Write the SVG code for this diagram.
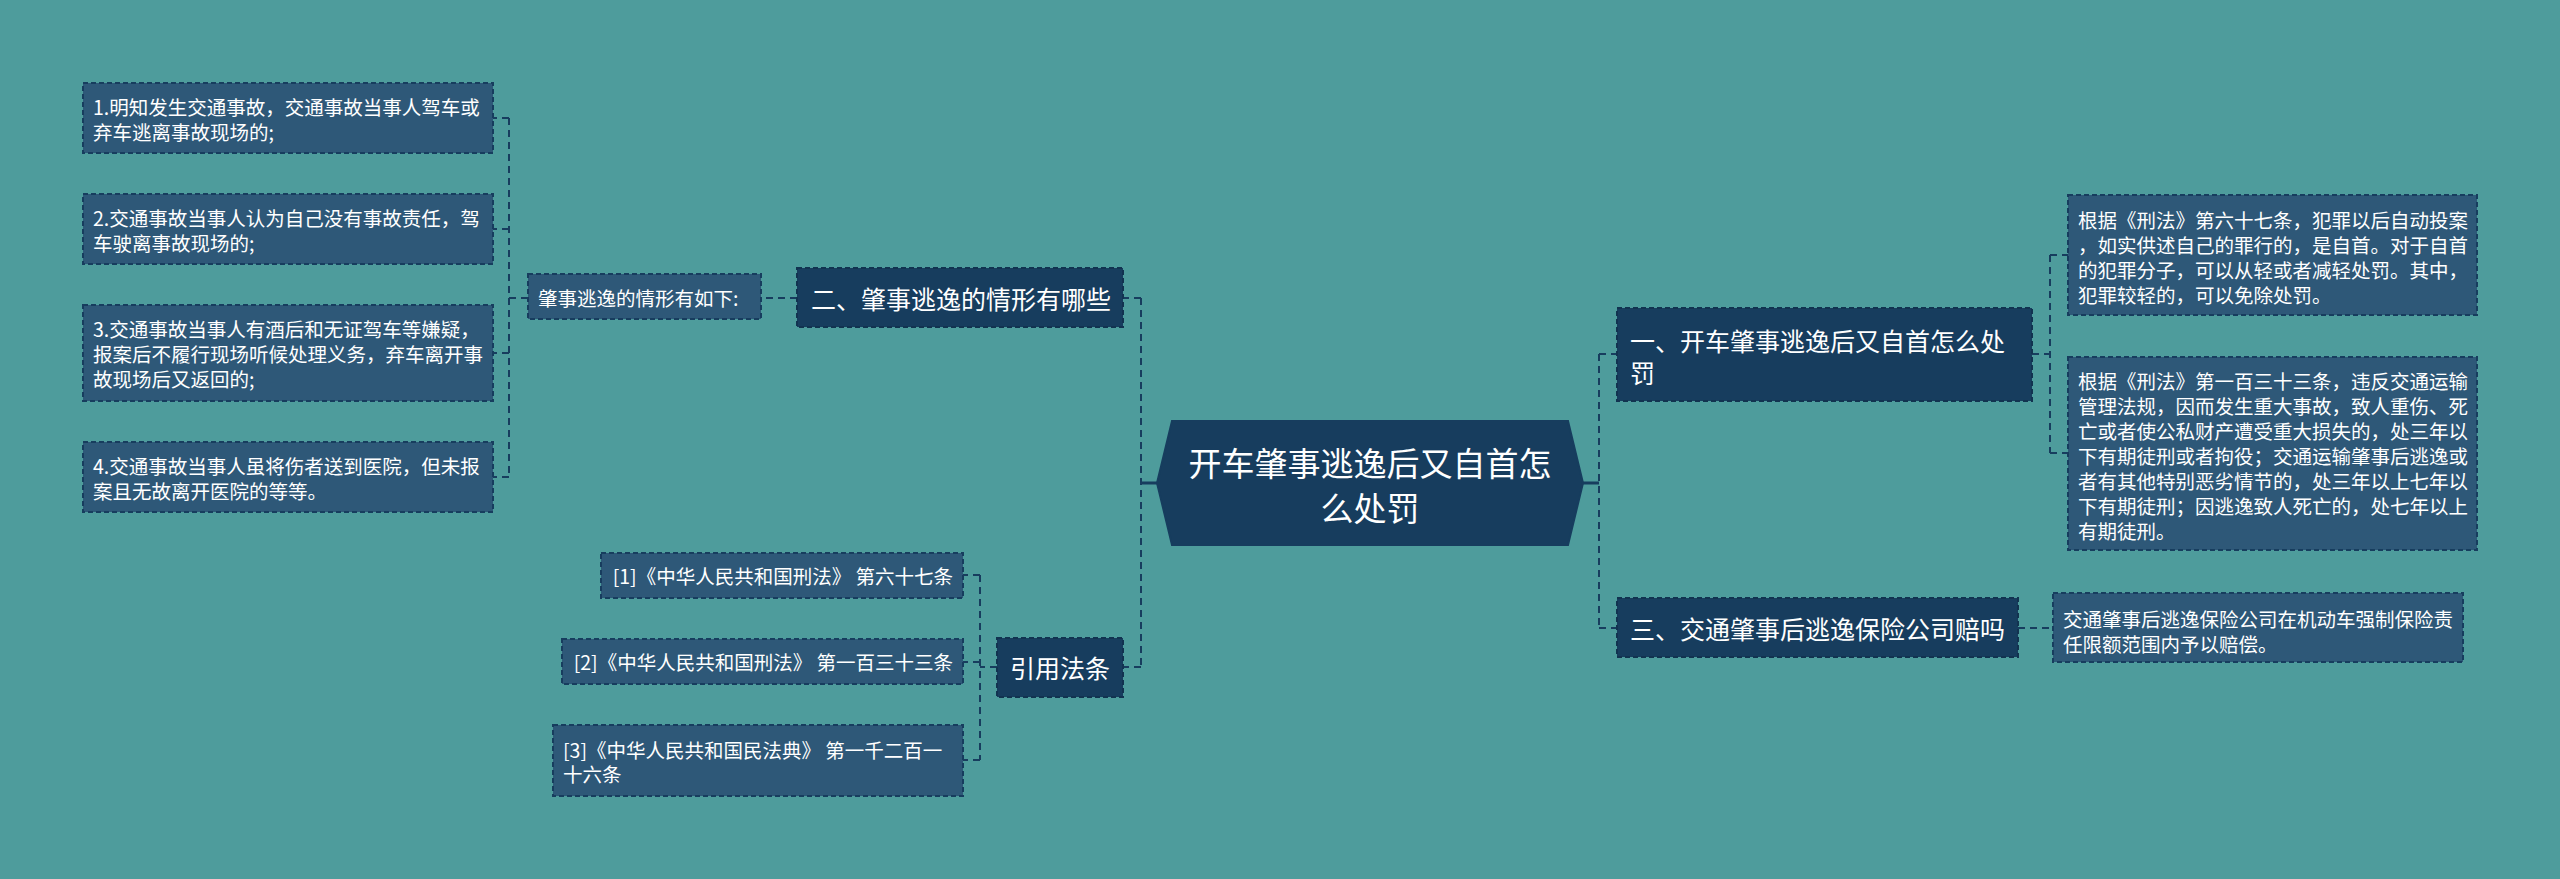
<svg xmlns="http://www.w3.org/2000/svg" width="2560" height="879" viewBox="0 0 2560 879">
<style>
text{font-family:"Noto Sans CJK SC","Noto Sans",sans-serif;fill:#ffffff;dominant-baseline:central}
.main{fill:#173d5e;stroke:#123350;stroke-width:2;stroke-dasharray:5 3}
.leaf{fill:#2e5878;stroke:#173d5e;stroke-width:2;stroke-dasharray:5 3}
.hex{fill:#173d5e;stroke:#173d5e;stroke-width:2}
.c{fill:none;stroke:#173d5e;stroke-width:2;stroke-dasharray:7 5}
.s{fill:none;stroke:#173d5e;stroke-width:3}
.t1{font-size:33px}
.t2{font-size:25px}
.t3{font-size:19.5px}
</style>
<rect width="2560" height="879" fill="#4e9c9c"/>
<g id="connectors">
<path class="s" d="M1157 483 H1141"/>
<path class="s" d="M1583 483 H1599"/>
<path class="c" d="M1141 298 V667"/>
<path class="c" d="M1141 298 H1123"/>
<path class="c" d="M1141 667 H1123"/>
<path class="c" d="M1599 354 V628"/>
<path class="c" d="M1599 354 H1617"/>
<path class="c" d="M1599 628 H1617"/>
<path class="c" d="M797 298 H761"/>
<path class="c" d="M528 298 H509"/>
<path class="c" d="M509 118 V477"/>
<path class="c" d="M509 118 H493"/>
<path class="c" d="M509 229 H493"/>
<path class="c" d="M509 353 H493"/>
<path class="c" d="M509 477 H493"/>
<path class="c" d="M997 667 H980"/>
<path class="c" d="M980 575 V760"/>
<path class="c" d="M980 575 H963"/>
<path class="c" d="M980 662 H963"/>
<path class="c" d="M980 760 H963"/>
<path class="c" d="M2032 354 H2050"/>
<path class="c" d="M2050 255 V453"/>
<path class="c" d="M2050 255 H2068"/>
<path class="c" d="M2050 453 H2068"/>
<path class="c" d="M2018 628 H2053"/>
</g>
<g id="center">
<polygon class="hex" points="1172,421 1568,421 1583,483 1568,545 1172,545 1157,483"/>
<text class="t1" x="1370" y="462" text-anchor="middle">开车肇事逃逸后又自首怎</text>
<text class="t1" x="1370" y="507" text-anchor="middle">么处罚</text>
</g>
<g id="n2">
<rect class="main" x="797" y="268" width="326" height="59"/>
<text class="t2" x="811" y="298">二、肇事逃逸的情形有哪些</text>
</g>
<g id="n2a">
<rect class="leaf" x="528" y="274" width="233" height="45"/>
<text class="t3" x="538" y="297">肇事逃逸的情形有如下:</text>
</g>
<g id="l1">
<rect class="leaf" x="83" y="83" width="410" height="70"/>
<text class="t3" x="93" y="106">1.明知发生交通事故，交通事故当事人驾车或</text>
<text class="t3" x="93" y="131">弃车逃离事故现场的;</text>
</g>
<g id="l2">
<rect class="leaf" x="83" y="194" width="410" height="70"/>
<text class="t3" x="93" y="217">2.交通事故当事人认为自己没有事故责任，驾</text>
<text class="t3" x="93" y="242">车驶离事故现场的;</text>
</g>
<g id="l3">
<rect class="leaf" x="83" y="305" width="410" height="96"/>
<text class="t3" x="93" y="328">3.交通事故当事人有酒后和无证驾车等嫌疑，</text>
<text class="t3" x="93" y="353">报案后不履行现场听候处理义务，弃车离开事</text>
<text class="t3" x="93" y="378">故现场后又返回的;</text>
</g>
<g id="l4">
<rect class="leaf" x="83" y="442" width="410" height="70"/>
<text class="t3" x="93" y="465">4.交通事故当事人虽将伤者送到医院，但未报</text>
<text class="t3" x="93" y="490">案且无故离开医院的等等。</text>
</g>
<g id="n4">
<rect class="main" x="997" y="638" width="126" height="59"/>
<text class="t2" x="1060" y="667" text-anchor="middle">引用法条</text>
</g>
<g id="r1">
<rect class="leaf" x="601" y="553" width="362" height="45"/>
<text class="t3" x="953" y="575" text-anchor="end">[1]《中华人民共和国刑法》 第六十七条</text>
</g>
<g id="r2">
<rect class="leaf" x="562" y="639" width="401" height="45"/>
<text class="t3" x="953" y="661" text-anchor="end">[2]《中华人民共和国刑法》 第一百三十三条</text>
</g>
<g id="r3">
<rect class="leaf" x="553" y="725" width="410" height="71"/>
<text class="t3" x="563" y="749">[3]《中华人民共和国民法典》 第一千二百一</text>
<text class="t3" x="563" y="773">十六条</text>
</g>
<g id="n1">
<rect class="main" x="1617" y="308" width="415" height="93"/>
<text class="t2" x="1630" y="340">一、开车肇事逃逸后又自首怎么处</text>
<text class="t2" x="1630" y="372">罚</text>
</g>
<g id="a1">
<rect class="leaf" x="2068" y="195" width="409" height="120"/>
<text class="t3" x="2078" y="219">根据《刑法》第六十七条，犯罪以后自动投案</text>
<text class="t3" x="2078" y="244">，如实供述自己的罪行的，是自首。对于自首</text>
<text class="t3" x="2078" y="269">的犯罪分子，可以从轻或者减轻处罚。其中，</text>
<text class="t3" x="2078" y="294">犯罪较轻的，可以免除处罚。</text>
</g>
<g id="a2">
<rect class="leaf" x="2068" y="357" width="409" height="193"/>
<text class="t3" x="2078" y="380">根据《刑法》第一百三十三条，违反交通运输</text>
<text class="t3" x="2078" y="405">管理法规，因而发生重大事故，致人重伤、死</text>
<text class="t3" x="2078" y="430">亡或者使公私财产遭受重大损失的，处三年以</text>
<text class="t3" x="2078" y="455">下有期徒刑或者拘役；交通运输肇事后逃逸或</text>
<text class="t3" x="2078" y="480">者有其他特别恶劣情节的，处三年以上七年以</text>
<text class="t3" x="2078" y="505">下有期徒刑；因逃逸致人死亡的，处七年以上</text>
<text class="t3" x="2078" y="530">有期徒刑。</text>
</g>
<g id="n3">
<rect class="main" x="1617" y="598" width="401" height="59"/>
<text class="t2" x="1630" y="628">三、交通肇事后逃逸保险公司赔吗</text>
</g>
<g id="a3">
<rect class="leaf" x="2053" y="593" width="410" height="69"/>
<text class="t3" x="2063" y="618">交通肇事后逃逸保险公司在机动车强制保险责</text>
<text class="t3" x="2063" y="643">任限额范围内予以赔偿。</text>
</g>
</svg>
